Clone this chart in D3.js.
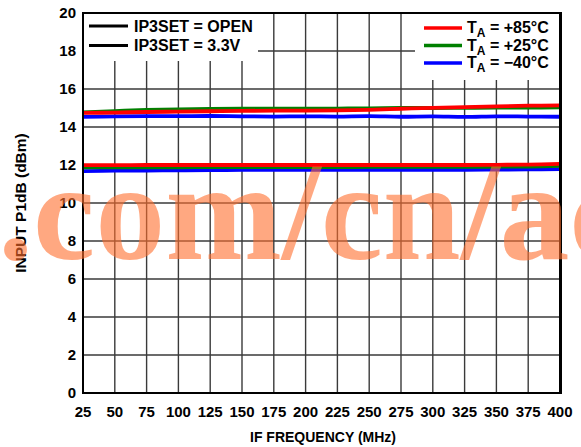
<!DOCTYPE html>
<html><head><meta charset="utf-8">
<script src="https://cdn.jsdelivr.net/npm/d3@7"></script>
<style>body{margin:0;background:#fff}svg{display:block}text{font-family:"Liberation Sans",Arial,sans-serif;font-weight:bold}</style>
</head><body><div id="chart"></div>
<script>
const freqs = [25,50,75,100,125,150,175,200,225,250,275,300,325,350,375,400];
const xTicks = [25,50,75,100,125,150,175,200,225,250,275,300,325,350,375,400];
const yTicks = [0,2,4,6,8,10,12,14,16,18,20];
// IP3SET = OPEN (upper group)
const openHot  = [14.74,14.76,14.79,14.81,14.83,14.85,14.86,14.86,14.87,14.90,14.96,15.01,15.05,15.09,15.12,15.14];
const openRoom = [14.77,14.84,14.90,14.93,14.95,14.96,14.96,14.96,14.97,14.98,15.00,15.00,15.01,15.02,15.02,15.03];
const openCold = [14.53,14.56,14.57,14.57,14.58,14.56,14.55,14.56,14.55,14.57,14.54,14.56,14.53,14.56,14.55,14.54];
// IP3SET = 3.3V (lower group)
const v33Hot  = [11.99,11.99,12.00,12.00,12.00,12.00,12.00,12.00,12.00,12.00,12.00,12.00,12.00,12.01,12.02,12.06];
const v33Room = [11.87,11.88,11.88,11.88,11.89,11.89,11.89,11.89,11.89,11.90,11.90,11.90,11.90,11.91,11.92,11.95];
const v33Cold = [11.68,11.70,11.71,11.72,11.73,11.74,11.75,11.75,11.74,11.74,11.75,11.75,11.75,11.76,11.77,11.78];
const legendSet = ["IP3SET = OPEN","IP3SET = 3.3V"];
const legendTemp = [{label:"+85°C",color:"#ff0000"},{label:"+25°C",color:"#008000"},{label:"\u221240°C",color:"#0000ff"}];

const W=581,H=447;
const m={l:83,r:21,t:13,b:54};
const svg=d3.select("#chart").append("svg").attr("width",W).attr("height",H);
const x=d3.scaleLinear().domain([25,400]).range([m.l,W-m.r]);
const y=d3.scaleLinear().domain([0,20]).range([H-m.b,m.t]);

// grid
const g=svg.append("g");
g.selectAll(".vg").data(xTicks.slice(1,-1)).join("line")
 .attr("x1",d=>x(d)).attr("x2",d=>x(d)).attr("y1",y(0)).attr("y2",y(20))
 .attr("stroke","#3a3a3a").attr("stroke-width",1.4);
g.selectAll(".hg").data(yTicks.slice(1,-1)).join("line")
 .attr("y1",d=>y(d)).attr("y2",d=>y(d)).attr("x1",x(25)).attr("x2",x(400))
 .attr("stroke","#3a3a3a").attr("stroke-width",1.4);

// legend boxes (white)
svg.append("rect").attr("x",x(25)).attr("y",y(20)).attr("width",258-x(25)).attr("height",61-y(20)).attr("fill","#fff");
svg.append("rect").attr("x",415).attr("y",y(20)).attr("width",x(400)-415).attr("height",80-y(20)).attr("fill","#fff");

// data lines
const line=d3.line().x((d,i)=>x(freqs[i])).y(d=>y(d)).curve(d3.curveCatmullRom);
const series=[
 {v:openCold,c:"#0000ff"},{v:openRoom,c:"#008000"},{v:openHot,c:"#ff0000"},
 {v:v33Cold,c:"#0000ff"},{v:v33Room,c:"#008000"},{v:v33Hot,c:"#ff0000"}];
svg.selectAll(".ln").data(series).join("path")
 .attr("d",d=>line(d.v)).attr("fill","none").attr("stroke",d=>d.c).attr("stroke-width",3.8);

// frame
svg.append("rect").attr("x",x(25)).attr("y",y(20)).attr("width",x(400)-x(25)).attr("height",y(0)-y(20))
 .attr("fill","none").attr("stroke","#000").attr("stroke-width",2);
svg.append("line").attr("x1",x(400)+0.5).attr("x2",x(400)+0.5).attr("y1",y(20)-1).attr("y2",y(0)+1).attr("stroke","#000").attr("stroke-width",3);

// ticks labels
svg.selectAll(".yl").data(yTicks).join("text")
 .attr("x",76).attr("y",d=>y(d)).attr("dy","0.36em").attr("text-anchor","end")
 .attr("font-size",15).text(d=>d);
svg.selectAll(".xl").data(xTicks).join("text")
 .attr("x",d=>x(d)).attr("y",417).attr("text-anchor","middle")
 .attr("font-size",15).text(d=>d);

// axis titles
svg.append("text").attr("x",323).attr("y",442).attr("text-anchor","middle").attr("font-size",14).text("IF FREQUENCY (MHz)");
svg.append("text").attr("transform","translate(26,203) rotate(-90)").attr("text-anchor","middle").attr("font-size",15.5).text("INPUT P1dB (dBm)");

// left legend
legendSet.forEach((t,i)=>{
  const yy=26+i*19.5;
  svg.append("line").attr("x1",89).attr("x2",128).attr("y1",yy).attr("y2",yy).attr("stroke","#000").attr("stroke-width",3);
  svg.append("text").attr("x",134).attr("y",yy+5.5).attr("font-size",16).text(t);
});
// right legend
legendTemp.forEach((d,i)=>{
  const yy=28+i*17.5;
  svg.append("line").attr("x1",424).attr("x2",462).attr("y1",yy).attr("y2",yy).attr("stroke",d.color).attr("stroke-width",3.6);
  const t=svg.append("text").attr("x",467).attr("y",yy+5).attr("font-size",16);
  t.append("tspan").text("T");
  t.append("tspan").attr("font-size",12).attr("dy",4).text("A");
  t.append("tspan").attr("dy",-4).text(" = "+d.label);
});

// watermark
svg.append("text").attr("x",-2).attr("y",259)
 .style("font-family","'Liberation Serif','Times New Roman',serif").style("font-weight","bold")
 .attr("font-size",140).attr("fill","rgb(255,110,45)").attr("fill-opacity",0.6)
 .text(".com/cn/ac");
</script></body></html>
